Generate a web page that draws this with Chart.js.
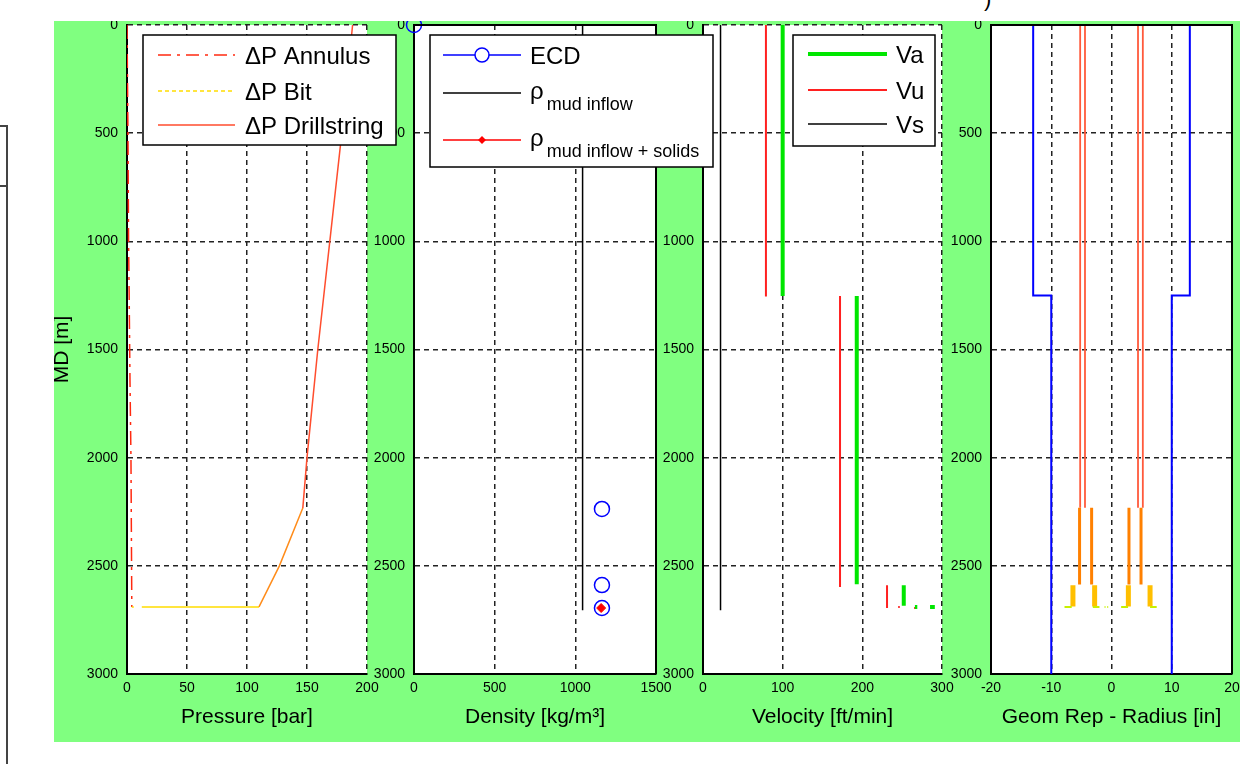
<!DOCTYPE html>
<html lang="en">
<head>
<meta charset="UTF-8">
<title>Hydraulics profile vs MD</title>
<script src="https://cdn.jsdelivr.net/npm/chart.js"></script>
<style>
    html, body { margin: 0; padding: 0; background: #fff; }
    body { width: 1242px; height: 764px; position: relative; overflow: hidden; font-family: Arial, "Liberation Sans", sans-serif; }
    #fig { position: absolute; left: 54px; top: 21px; width: 1186px; height: 721px; background: #80ff80; overflow: hidden; }
    #fig canvas { position: absolute; top: 0; }
    #c1 { left: -2px; z-index: 4; }
    #c2 { left: 310px; z-index: 3; }
    #c3 { left: 599px; z-index: 2; }
    #c4 { left: 887px; z-index: 1; }
    .edgeBox { position: absolute; left: 0; top: 125px; width: 6px; height: 58px; border: 2px solid #444; border-left: none; }
    .edgeLine { position: absolute; left: 6px; top: 125px; width: 2px; height: 640px; background: #444; }
    .paren { position: absolute; left: 984px; top: -14px; font-size: 22px; color: #000; }
</style>
</head>
<body>

<div class="edgeBox"></div>
<div class="edgeLine"></div>
<div class="paren">)</div>

<div id="fig">
    <canvas id="c1" width="368" height="721"></canvas>
    <canvas id="c2" width="356" height="721"></canvas>
    <canvas id="c3" width="307" height="721"></canvas>
    <canvas id="c4" width="299" height="721"></canvas>
</div>

<script>
// ---- shared depth axis ----
const mdMin = 0, mdMax = 3000, mdStep = 500;

// ---- panel 1: pressure losses [bar] ----
const annulusP  = [0, 0.8, 1.3, 1.8, 2.5, 3.3, 4.0];
const annulusMD = [0, 500, 1000, 1250, 1650, 2000, 2690];
const bitP  = [4, 110];
const bitMD = [2690, 2690];
const drillP  = [110, 127, 146.5, 150, 159, 169, 179, 188];
const drillMD = [2690, 2500, 2233, 2000, 1500, 1000, 500, 0];

// ---- panel 2: density [kg/m3] ----
const ecdRho = [0, 1165, 1165, 1165];
const ecdMD  = [0, 2237, 2589, 2695];
const mudRho = [1045, 1045];
const mudMD  = [0, 2705];
const solidsRho = [1160];
const solidsMD  = [2695];

// ---- panel 3: velocity [ft/min] ----
const vaX  = [100, 100, null, 193, 193, null, 252, 252, null, 266, 269, null, 285, 291];
const vaMD = [0, 1253, null, 1253, 2585, null, 2590, 2685, null, 2690, 2690, null, 2690, 2690];
const vuX  = [79, 79, null, 172, 172, null, 231, 231, null, 245, 247, null, 265, 268];
const vuMD = [0, 1255, null, 1253, 2598, null, 2590, 2695, null, 2690, 2690, null, 2695, 2695];
const vsX  = [22, 22];
const vsMD = [0, 2705];

// ---- panel 4: geometry radius [in] ----
const holeX  = [-13, -13, -10, -10, null, 13, 13, 10, 10];
const holeMD = [0, 1250, 1250, 3000, null, 0, 1250, 1250, 3000];
const pipeX = [-5.2, -4.4, 4.4, 5.2];
const pipeMD = [0, 2231];
const collarX = [-5.3, -3.3, 2.9, 4.9];
const collarMD = [2231, 2586];
const bhaX = [-6.4, -2.8, 2.8, 6.4];
const bhaMD = [2590, 2688];
const bitFaceX  = [-7.8, -6.6, null, -3.1, -2.0, null, -1.15, -1.0, null, -0.7, -0.55, null, 1.6, 2.75, null, 6.4, 7.5];
const bitFaceMD = 2690;

const legend1 = ['ΔP Annulus', 'ΔP Bit', 'ΔP Drillstring'];
const legend3 = ['Va', 'Vu', 'Vs'];

const FONT = 'Arial, "Liberation Sans", sans-serif';
const dsRed = '#ff4d2e', dsOrange = '#ff8c1a';

function pts(xs, ys) {
    return xs.map((x, i) => ({ x: x, y: Array.isArray(ys) ? ys[i] : (x === null ? null : ys) }));
}
// vertical segments at every x in xs, between two depths
function vsegs(xs, range) {
    const out = [];
    xs.forEach(x => { out.push({ x: x, y: range[0] }, { x: x, y: range[1] }, { x: null, y: null }); });
    return out;
}

const panelDeco = {
    id: 'panelDeco',
    beforeDraw(chart) {
        const { ctx, chartArea: a } = chart;
        ctx.save();
        ctx.fillStyle = '#fff';
        ctx.fillRect(a.left, a.top, a.right - a.left, a.bottom - a.top);
        ctx.restore();
    },
    afterDraw(chart, args, opts) {
        const { ctx, chartArea: a } = chart;
        ctx.save();
        if (opts.box) {
            ctx.strokeStyle = '#000';
            ctx.lineWidth = 2;
            ctx.beginPath();
            ctx.moveTo(a.left, a.top);
            ctx.lineTo(a.right, a.top);
            ctx.lineTo(a.right, a.bottom);
            ctx.stroke();
        }
        const lg = opts.legend;
        if (lg) {
            const x0 = a.left + lg.x, y0 = a.top + lg.y;
            ctx.fillStyle = '#fff';
            ctx.fillRect(x0, y0, lg.w, lg.h);
            ctx.strokeStyle = '#000';
            ctx.lineWidth = 1.5;
            ctx.strokeRect(x0, y0, lg.w, lg.h);
            lg.items.forEach(it => {
                const y = a.top + it.y;
                const lx1 = a.left + lg.lx1, lx2 = a.left + lg.lx2;
                ctx.beginPath();
                ctx.setLineDash(it.dash || []);
                ctx.strokeStyle = it.color;
                ctx.lineWidth = it.width;
                ctx.moveTo(lx1, y);
                ctx.lineTo(lx2, y);
                ctx.stroke();
                ctx.setLineDash([]);
                const mx = (lx1 + lx2) / 2;
                if (it.marker === 'circle') {
                    ctx.fillStyle = '#fff';
                    ctx.beginPath();
                    ctx.arc(mx, y, 7, 0, Math.PI * 2);
                    ctx.fill();
                    ctx.stroke();
                } else if (it.marker === 'diamond') {
                    ctx.fillStyle = it.color;
                    ctx.beginPath();
                    ctx.moveTo(mx, y - 4); ctx.lineTo(mx + 4, y); ctx.lineTo(mx, y + 4); ctx.lineTo(mx - 4, y);
                    ctx.closePath();
                    ctx.fill();
                }
                const tx = a.left + lg.tx;
                ctx.fillStyle = '#000';
                ctx.textBaseline = 'alphabetic';
                ctx.textAlign = 'left';
                ctx.font = '24px ' + FONT;
                if (it.sub) {
                    ctx.fillText(it.text, tx, y + 6);
                    const w = ctx.measureText(it.text).width;
                    ctx.font = '18px ' + FONT;
                    ctx.fillText(it.sub, tx + w + 3, y + 17);
                } else {
                    ctx.fillText(it.text, tx, y + 9);
                }
            });
        }
        ctx.restore();
    }
};

function axis(min, max, step, title, fitSize, isX, titlePad) {
    return {
        type: 'linear',
        position: isX ? 'bottom' : 'left',
        reverse: !isX,
        min: min,
        max: max,
        afterFit: s => {
            if (isX) s.height = fitSize; else s.width = fitSize;
            s.paddingTop = 0; s.paddingBottom = 0; s.paddingLeft = 0; s.paddingRight = 0;
        },
        ticks: {
            stepSize: step,
            autoSkip: false,
            maxRotation: 0,
            padding: isX ? 6 : 9,
            color: '#000',
            font: { family: FONT, size: 14 },
            callback: v => String(v)
        },
        grid: { color: '#222', lineWidth: 1.5, drawTicks: false },
        border: { display: true, color: '#000', width: 2, dash: [5, 4] },
        title: {
            display: !!title,
            text: title,
            color: '#000',
            font: { family: FONT, size: 21, lineHeight: 1 },
            padding: titlePad
        }
    };
}

function line(label, data, color, width, extra) {
    return Object.assign({
        label: label, data: data, showLine: true, pointRadius: 0, pointHoverRadius: 0,
        borderColor: color, backgroundColor: color, borderWidth: width, fill: false, spanGaps: false
    }, extra || {});
}

function makePanel(id, cfg) {
    return new Chart(document.getElementById(id), {
        type: 'scatter',
        data: { datasets: cfg.datasets },
        options: {
            responsive: false,
            animation: false,
            events: [],
            layout: { autoPadding: false, padding: { left: 0, right: cfg.padRight, top: 4, bottom: 0 } },
            scales: {
                x: axis(cfg.xMin, cfg.xMax, cfg.xStep, cfg.xTitle, 68, true, { top: 0, bottom: 14 }),
                y: axis(mdMin, mdMax, mdStep, cfg.yTitle, cfg.yWidth, false, { top: 0, bottom: 0 })
            },
            plugins: {
                legend: { display: false },
                tooltip: { enabled: false },
                panelDeco: { box: cfg.box, legend: cfg.legend }
            }
        },
        plugins: [panelDeco]
    });
}

// Panel 1 - pressure
makePanel('c1', {
    xMin: 0, xMax: 200, xStep: 50, xTitle: 'Pressure [bar]', yTitle: 'MD [m]', yWidth: 75, padRight: 53, box: false,
    datasets: [
        line(legend1[2], pts(drillP, drillMD), dsRed, 1.5, {
            segment: { borderColor: c => (c.p0.parsed.y >= 2230 && c.p1.parsed.y >= 2230) ? dsOrange : dsRed }
        }),
        line(legend1[1], pts(bitP, bitMD), '#ffdd00', 1.5, { borderDash: [2, 8, 200, 0] }),
        line(legend1[0], pts(annulusP, annulusMD), '#ff2a10', 1.5, { borderDash: [14, 6, 3, 6] })
    ],
    legend: {
        x: 16, y: 10, w: 253, h: 110, lx1: 31, lx2: 108, tx: 118,
        items: [
            { text: legend1[0], color: '#ff2a10', width: 1.5, dash: [13, 6, 3, 6], y: 30 },
            { text: legend1[1], color: '#ffdd00', width: 1.5, dash: [4, 3], y: 66 },
            { text: legend1[2], color: dsRed, width: 1.5, y: 100 }
        ]
    }
});

// Panel 2 - density
makePanel('c2', {
    xMin: 0, xMax: 1500, xStep: 500, xTitle: 'Density [kg/m³]', yTitle: '', yWidth: 50, padRight: 64, box: true,
    datasets: [
        { label: 'ρ mud inflow + solids', data: pts(solidsRho, solidsMD), showLine: false, pointStyle: 'rectRot',
          pointRadius: 4.5, borderColor: '#ff0000', backgroundColor: '#ff0000', borderWidth: 1 },
        { label: 'ECD', data: pts(ecdRho, ecdMD), showLine: false, pointStyle: 'circle', pointRadius: 7.5,
          borderColor: '#0000ff', backgroundColor: 'rgba(0,0,0,0)', borderWidth: 1.5, clip: false },
        line('ρ mud inflow', pts(mudRho, mudMD), '#000', 1.5)
    ],
    legend: {
        x: 16, y: 10, w: 283, h: 132, lx1: 29, lx2: 107, tx: 116,
        items: [
            { text: 'ECD', color: '#0000ff', width: 1.5, marker: 'circle', y: 30 },
            { text: 'ρ', sub: 'mud inflow', color: '#000', width: 1.5, y: 68 },
            { text: 'ρ', sub: 'mud inflow + solids', color: '#ff0000', width: 1.5, marker: 'diamond', y: 115 }
        ]
    }
});

// Panel 3 - velocity
makePanel('c3', {
    xMin: 0, xMax: 300, xStep: 100, xTitle: 'Velocity [ft/min]', yTitle: '', yWidth: 50, padRight: 18, box: false,
    datasets: [
        line(legend3[0], pts(vaX, vaMD), '#00e600', 4),
        line(legend3[1], pts(vuX, vuMD), '#ff2020', 2),
        line(legend3[2], pts(vsX, vsMD), '#000', 1.5)
    ],
    legend: {
        x: 90, y: 10, w: 142, h: 111, lx1: 105, lx2: 184, tx: 193,
        items: [
            { text: legend3[0], color: '#00e600', width: 4, y: 29 },
            { text: legend3[1], color: '#ff2020', width: 2, y: 65 },
            { text: legend3[2], color: '#000', width: 1.5, y: 99 }
        ]
    }
});

// Panel 4 - geometry
makePanel('c4', {
    xMin: -20, xMax: 20, xStep: 10, xTitle: 'Geom Rep - Radius [in]', yTitle: '', yWidth: 50, padRight: 8, box: true,
    datasets: [
        line('bit face', pts(bitFaceX, bitFaceMD), '#c8f000', 2),
        line('BHA', vsegs(bhaX, bhaMD), '#ffbf00', 5),
        line('collars', vsegs(collarX, collarMD), '#ff8000', 3),
        line('drillpipe', vsegs(pipeX, pipeMD), '#ff5a3c', 1.8),
        line('hole', pts(holeX, holeMD), '#0000ff', 2)
    ],
    legend: null
});
</script>

</body>
</html>
